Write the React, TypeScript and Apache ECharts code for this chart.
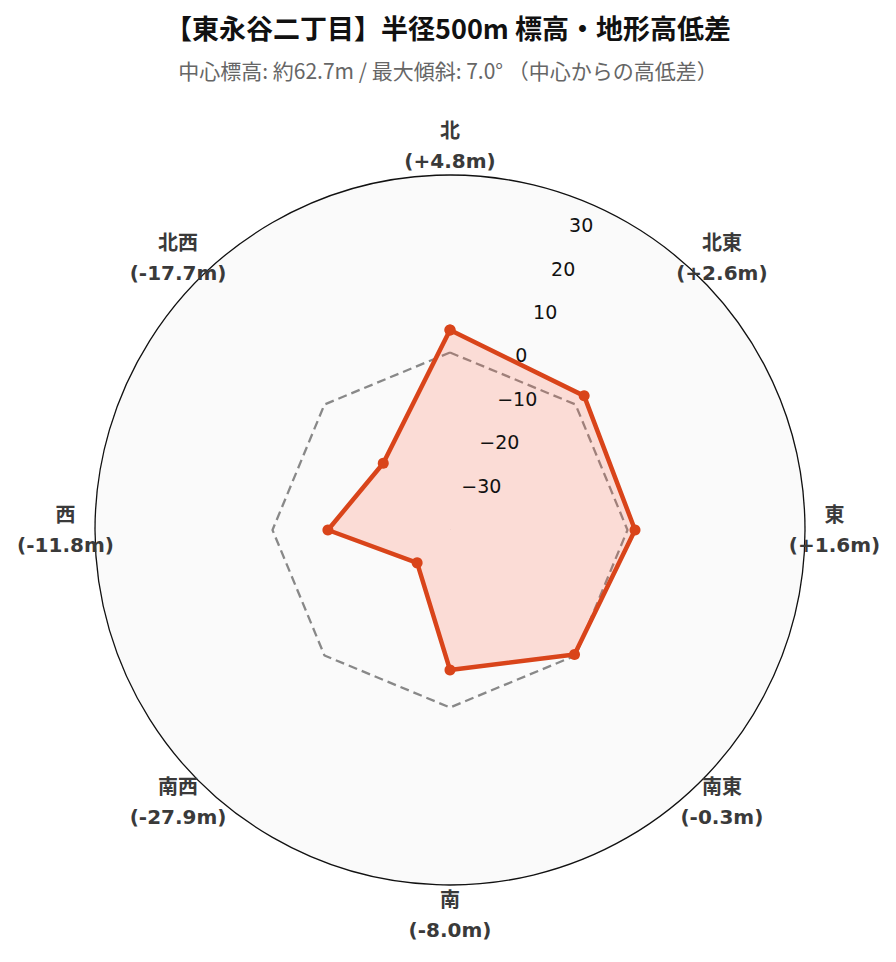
import React, { useEffect, useRef } from "react";
import * as echarts from "echarts";

const titleText = "【東永谷二丁目】半径500m 標高・地形高低差";
const subtitleText = "中心標高: 約62.7m / 最大傾斜: 7.0° （中心からの高低差）";
const directions = ["北", "北東", "東", "南東", "南", "南西", "西", "北西"];
const angles = [0, 45, 90, 135, 180, 225, 270, 315];
const diffs = [4.8, 2.6, 1.6, -0.3, -8.0, -27.9, -11.8, -17.7];
const referenceLevel = [0, 0, 0, 0, 0, 0, 0, 0];
const radialMin = -37.8;
const radialMax = 37.8;

const fmtDiff = (v: number) => (v >= 0 ? "+" : "") + v.toFixed(1) + "m";
const LABEL_GAP = 29.5;

export default function App() {
  const ref = useRef<HTMLDivElement>(null);
  useEffect(() => {
    document.body.style.margin = "0";
    const chart = echarts.init(ref.current!, null, { renderer: "svg" });
    const closed = (vals: number[]) => {
      const d = vals.map((v, i) => [v, angles[i]]);
      d.push([vals[0], 360]);
      return d;
    };
    const latin = "DejaVu Sans, Noto Sans CJK JP, sans-serif";
    const dirLabelData = angles.map((a, i) => {
      const rad = (a * Math.PI) / 180;
      return {
        value: [radialMax, a],
        label: { offset: [LABEL_GAP * Math.sin(rad), -LABEL_GAP * Math.cos(rad)] },
      };
    });
    chart.setOption({
      animation: false,
      backgroundColor: "#ffffff",
      title: [
        {
          text: titleText,
          left: "center",
          top: 9,
          textStyle: { fontFamily: "Noto Sans CJK JP", fontWeight: "bold", fontSize: 27, color: "#111" },
        },
        {
          text: subtitleText,
          left: "center",
          top: 54,
          textStyle: { fontFamily: "Noto Sans CJK JP", fontWeight: "normal", fontSize: 21, color: "#666" },
        },
      ],
      polar: [
        { center: [450, 530], radius: 355 },
        { center: [450, 530], radius: 355 },
      ],
      angleAxis: [
        {
          polarIndex: 0,
          type: "value",
          min: 0,
          max: 360,
          interval: 45,
          startAngle: 90,
          clockwise: true,
          axisLine: { show: true, lineStyle: { color: "#111", width: 1.3 } },
          axisTick: { show: false },
          splitLine: { show: true, lineStyle: { color: "#d0d0d0", type: [2, 4], width: 1 } },
          splitArea: { show: true, areaStyle: { color: ["#fafafa"] } },
          axisLabel: { show: false },
        },
        {
          polarIndex: 1,
          type: "value",
          min: 0,
          max: 360,
          startAngle: 67.5,
          clockwise: true,
          axisLine: { show: false },
          axisTick: { show: false },
          axisLabel: { show: false },
          splitLine: { show: false },
        },
      ],
      radiusAxis: [
        {
          polarIndex: 0,
          type: "value",
          min: radialMin,
          max: radialMax,
          splitNumber: 7,
          axisLine: { show: false },
          axisTick: { show: false },
          axisLabel: { show: false },
          splitLine: { show: true, lineStyle: { color: "#d8d8d8", type: [2, 4], width: 1 } },
        },
        {
          polarIndex: 1,
          type: "value",
          min: radialMin,
          max: radialMax,
          splitNumber: 7,
          axisLine: { show: false },
          axisTick: { show: false },
          splitLine: { show: false },
          z: 10,
          axisLabel: {
            show: true,
            inside: true,
            showMinLabel: false,
            showMaxLabel: false,
            margin: 3,
            align: "left",
            verticalAlign: "bottom",
            fontFamily: latin,
            fontSize: 19,
            color: "#111",
            formatter: (v: number) => String(v).replace("-", "\u2212"),
          },
        },
      ],
      series: [
        {
          type: "line",
          coordinateSystem: "polar",
          polarIndex: 0,
          data: closed(referenceLevel),
          symbol: "none",
          lineStyle: { color: "#888", width: 2.3, type: [9, 5] },
          z: 2,
        },
        {
          type: "line",
          coordinateSystem: "polar",
          polarIndex: 0,
          data: closed(diffs),
          symbol: "circle",
          symbolSize: 11,
          itemStyle: { color: "#d9441a" },
          lineStyle: { color: "#d9441a", width: 4.5 },
          areaStyle: { color: "rgba(255,99,71,0.2)", opacity: 1, origin: "start" },
          z: 3,
        },
        {
          type: "scatter",
          coordinateSystem: "polar",
          polarIndex: 0,
          clip: false,
          silent: true,
          symbol: "circle",
          symbolSize: 1,
          itemStyle: { color: "rgba(0,0,0,0)" },
          data: dirLabelData,
          z: 5,
          label: {
            show: true,
            position: "inside",
            align: "center",
            verticalAlign: "middle",
            fontFamily: latin,
            fontWeight: "bold",
            fontSize: 20,
            lineHeight: 30,
            color: "#3a3a3a",
            textBorderWidth: 0,
            opacity: 1,
            formatter: (p: any) => directions[p.dataIndex] + "\n(" + fmtDiff(diffs[p.dataIndex]) + ")",
          },
        },
      ],
    });
    return () => chart.dispose();
  }, []);
  return <div ref={ref} style={{ position: "fixed", left: 0, top: 0, width: 896, height: 962 }} />;
}
